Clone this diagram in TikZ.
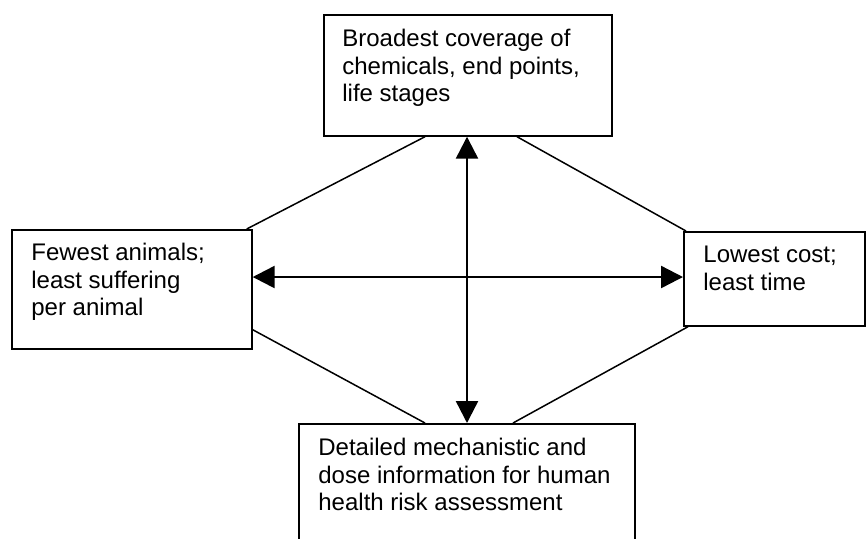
\documentclass[tikz,border=0pt]{standalone}
\usepackage{fontspec}
\setmainfont{Liberation Sans}
\usetikzlibrary{arrows.meta,calc}
\tikzset{
  box/.style={draw=black, line width=0.85pt, inner sep=0pt, anchor=north west},
  txt/.style={anchor=north west, inner sep=0pt, align=left, font={\fontsize{12pt}{13.8pt}\selectfont}},
  link/.style={draw=black, line width=0.75pt},
  dbl/.style={draw=black, line width=1.2pt, {Triangle[length=11pt,width=11pt]}-{Triangle[length=11pt,width=11pt]}}
}
\begin{document}
\begin{tikzpicture}[x=0.5pt,y=-0.5pt]
\useasboundingbox (0,0) rectangle (867,538);
\clip (0,0) rectangle (867,538);
\fill[white] (0,0) rectangle (867,538);
% boxes
\node[box, minimum width=144pt, minimum height=60.5pt] (top) at (323,14) {};
\node[box, minimum width=120pt, minimum height=59.5pt] (left) at (11,229) {};
\node[box, minimum width=90.5pt, minimum height=47pt] (right) at (683,231) {};
\node[box, minimum width=168pt, minimum height=70pt] (bot) at (298,423) {};
% texts
\node[txt] (toptext) at (342,27) {\strut Broadest coverage of\\chemicals, end points,\\life stages};
\node[txt] (lefttext) at (31,241) {\strut Fewest animals;\\least suffering\\per animal};
\node[txt] (righttext) at (703,243) {\strut Lowest cost;\\least time};
\node[txt] (bottext) at (318,436) {\strut Detailed mechanistic and\\dose information for human\\health risk assessment};
% connectors
\coordinate (tA) at ($(top.south west)+(102,0)$);
\coordinate (tB) at ($(top.south west)+(194,0)$);
\coordinate (tC) at ($(top.south west)+(144,0)$);
\coordinate (bA) at ($(bot.north west)+(127,0)$);
\coordinate (bB) at ($(bot.north west)+(215,0)$);
\coordinate (bC) at ($(bot.north west)+(169,0)$);
\coordinate (lT) at ($(left.north east)+(-6,0)$);
\coordinate (lR) at ($(left.south east)+(0,-20)$);
\coordinate (lM) at ($(left.north east)+(0,48)$);
\coordinate (rT) at ($(right.north west)+(3,0)$);
\coordinate (rB) at ($(right.south west)+(5,0)$);
\coordinate (rM) at ($(right.north west)+(0,46)$);
\draw[link] (lT) -- (tA);
\draw[link] (tB) -- (rT);
\draw[link] (lR) -- (bA);
\draw[link] (rB) -- (bB);
\draw[dbl] (tC) -- (bC);
\draw[dbl] (lM) -- (rM);
\end{tikzpicture}
\end{document}
